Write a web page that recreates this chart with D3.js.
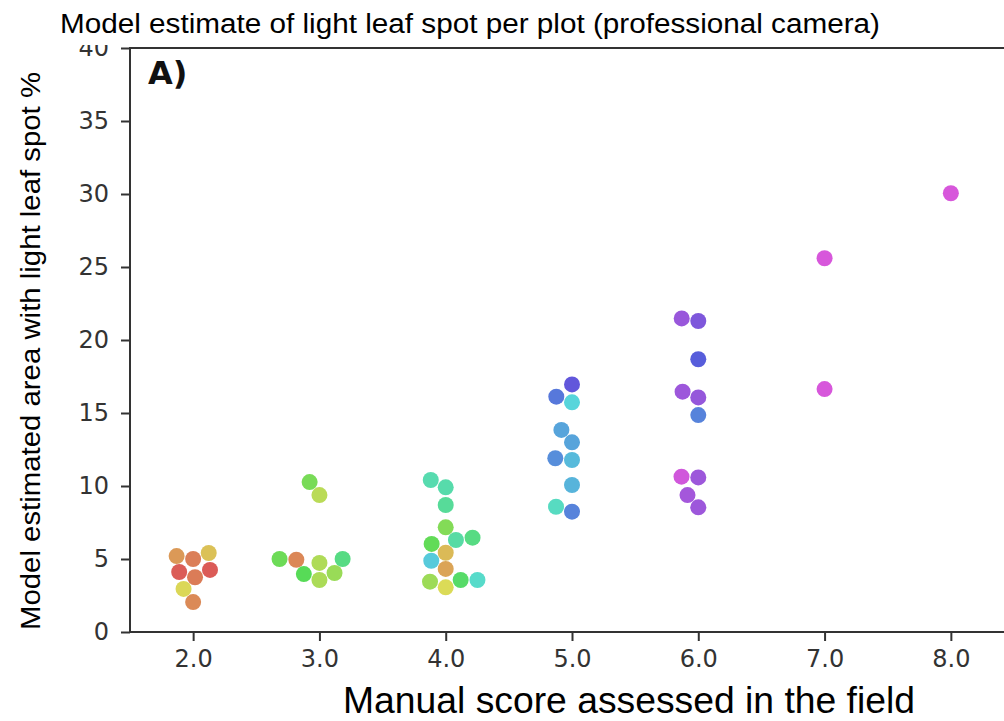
<!DOCTYPE html>
<html>
<head>
<meta charset="utf-8">
<script src="https://cdn.jsdelivr.net/npm/d3@7"></script>
<style>
  body { margin: 0; background: #fff; }
</style>
</head>
<body>
<div id="chart"></div>
<script>
// manual score categories (x) and y ticks
const categories = ["2.0", "3.0", "4.0", "5.0", "6.0", "7.0", "8.0"];
const yTickValues = [0, 5, 10, 15, 20, 25, 30, 35, 40];

// one entry per plot: manual score, model estimate (%), hue variable (degrees on the hls wheel)
const score = [
  "2.0", "2.0", "2.0", "2.0", "2.0", "2.0", "2.0", "2.0",
  "3.0", "3.0", "3.0", "3.0", "3.0", "3.0", "3.0", "3.0", "3.0",
  "4.0", "4.0", "4.0", "4.0", "4.0", "4.0", "4.0", "4.0", "4.0", "4.0", "4.0", "4.0", "4.0", "4.0",
  "5.0", "5.0", "5.0", "5.0", "5.0", "5.0", "5.0", "5.0", "5.0", "5.0",
  "6.0", "6.0", "6.0", "6.0", "6.0", "6.0", "6.0", "6.0", "6.0", "6.0",
  "7.0", "7.0",
  "8.0"
];
const estimate = [
  5.2, 5.0, 5.41, 4.11, 3.75, 4.25, 2.95, 2.05,
  10.27, 9.38, 5.0, 4.95, 4.73, 5.0, 3.97, 3.56, 4.04,
  10.41, 9.91, 8.7, 7.17, 6.3, 6.46, 6.03, 5.43, 4.88, 4.32, 3.45, 3.56, 3.56, 3.06,
  16.96, 16.12, 15.73, 13.84, 12.99, 11.9, 11.78, 10.07, 8.58, 8.24,
  21.48, 21.3, 18.68, 16.46, 16.07, 14.86, 10.64, 10.59, 9.38, 8.54,
  25.6, 16.64,
  30.05
];
const hue = [
  30, 18, 48, 3, 17, 2, 58, 23,
  105, 75, 140, 22, 80, 110, 120, 82, 90,
  160, 158, 150, 100, 155, 140, 115, 45, 188, 35, 88, 128, 172, 60,
  245, 225, 183, 205, 205, 215, 195, 198, 168, 220,
  270, 258, 237, 272, 268, 220, 295, 272, 275, 272,
  298, 298,
  298
];

const width = 1004, height = 721;
const margin = { left: 130, top: 48, bottom: 632 };
const radius = 8;

const svg = d3.select("#chart").append("svg")
  .attr("width", width)
  .attr("height", height)
  .style("font-family", "'DejaVu Sans', sans-serif");

const x = d3.scalePoint().domain(categories).range([margin.left, 1014]).padding(0.5);
const y = d3.scaleLinear().domain([0, 40]).range([margin.bottom, margin.top]);
const colour = h => d3.hsl(h, 0.65, 0.6).formatHex();

// y axis
const yAxis = svg.append("g")
  .attr("transform", `translate(${margin.left},0)`)
  .call(d3.axisLeft(y).tickValues(yTickValues).tickFormat(d3.format("d")).tickSize(9).tickPadding(12));
// x axis
const xAxis = svg.append("g")
  .attr("transform", `translate(0,${margin.bottom})`)
  .call(d3.axisBottom(x).tickSize(9).tickPadding(9));

[yAxis, xAxis].forEach(g => {
  g.select(".domain").remove();
  g.selectAll(".tick line").attr("stroke", "#333").attr("stroke-width", 2);
  g.selectAll(".tick text").attr("fill", "#333").style("font-size", "24px")
    .style("font-family", "'DejaVu Sans', sans-serif");
});

// white band behind title (cuts the top of the "40" label like in the source)
svg.append("rect").attr("x", 0).attr("y", 0).attr("width", width).attr("height", 45).attr("fill", "#fff");

// spines
svg.append("line").attr("x1", margin.left).attr("x2", margin.left)
  .attr("y1", margin.top).attr("y2", margin.bottom).attr("stroke", "#333").attr("stroke-width", 2);
svg.append("line").attr("x1", margin.left - 1).attr("x2", width)
  .attr("y1", margin.bottom).attr("y2", margin.bottom).attr("stroke", "#333").attr("stroke-width", 2);
svg.append("line").attr("x1", margin.left - 1).attr("x2", width)
  .attr("y1", margin.top).attr("y2", margin.top).attr("stroke", "#333").attr("stroke-width", 2);

// seaborn-style beeswarm, done in pixel space per category
const points = estimate.map((v, i) => ({ cat: score[i], v, hue: hue[i], py: y(v), px: x(score[i]) }));

function swarm(pts, cx, r) {
  const sorted = pts.slice().sort((a, b) => a.v - b.v);
  const placed = [];
  sorted.forEach(p => {
    const neighbors = [];
    for (let j = placed.length - 1; j >= 0; j--) {
      if (Math.abs(placed[j].py - p.py) < 2 * r) neighbors.push(placed[j]);
      else break;
    }
    const cands = [cx];
    let leftFirst = true;
    neighbors.forEach(q => {
      const dy = p.py - q.py;
      const dx = Math.sqrt(Math.max(4 * r * r - dy * dy, 0)) * 1.05;
      if (leftFirst) cands.push(q.px - dx, q.px + dx);
      else cands.push(q.px + dx, q.px - dx);
      leftFirst = !leftFirst;
    });
    const ordered = cands.map((c, i) => ({ c, i }))
      .sort((a, b) => Math.abs(a.c - cx) - Math.abs(b.c - cx) || a.i - b.i);
    const pick = ordered.find(o => neighbors.every(q =>
      (q.px - o.c) ** 2 + (q.py - p.py) ** 2 >= 4 * r * r));
    p.px = pick ? pick.c : cx;
    placed.push(p);
  });
}

categories.forEach(c => swarm(points.filter(p => p.cat === c), x(c), radius));

svg.append("g").selectAll("circle")
  .data(points)
  .enter()
  .append("circle")
  .attr("cx", d => d.px)
  .attr("cy", d => d.py)
  .attr("r", 8)
  .attr("fill", d => colour(d.hue));

// panel letter
svg.append("text").attr("x", 148).attr("y", 84)
  .style("font-size", "32px").style("font-weight", "bold").attr("fill", "#111")
  .text("A)");

// titles and labels
svg.append("text").attr("x", 60).attr("y", 33)
  .style("font-family", "'Liberation Sans', Arial, sans-serif").style("font-size", "27px")
  .attr("textLength", 820).attr("lengthAdjust", "spacingAndGlyphs")
  .text("Model estimate of light leaf spot per plot (professional camera)");

svg.append("text")
  .attr("transform", "translate(40,351) rotate(-90)")
  .attr("text-anchor", "middle")
  .style("font-family", "'Liberation Sans', Arial, sans-serif").style("font-size", "27px")
  .attr("textLength", 558).attr("lengthAdjust", "spacingAndGlyphs")
  .text("Model estimated area with light leaf spot %");

svg.append("text").attr("x", 629).attr("y", 713)
  .attr("text-anchor", "middle")
  .style("font-family", "'Liberation Sans', Arial, sans-serif").style("font-size", "37px")
  .attr("textLength", 572).attr("lengthAdjust", "spacingAndGlyphs")
  .text("Manual score assessed in the field");
</script>
</body>
</html>
